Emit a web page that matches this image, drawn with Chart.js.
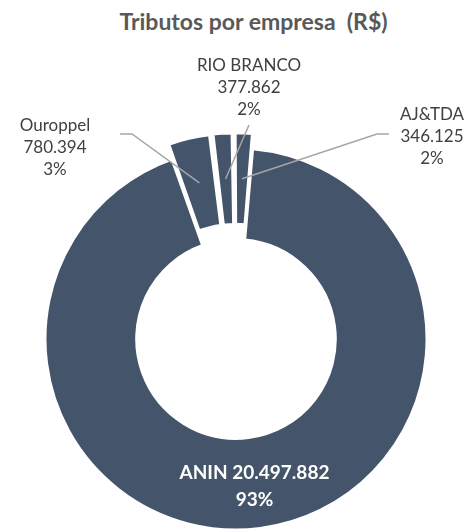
<!DOCTYPE html>
<html>
<head>
<meta charset="utf-8">
<script src="https://cdn.jsdelivr.net/npm/chart.js@4.4.0/dist/chart.umd.min.js"></script>
<style>
  html, body { margin: 0; padding: 0; background: #fff; }
  #wrap { position: relative; width: 466px; height: 530px; overflow: hidden; }
  #titulo {
    position: absolute; top: 7px; left: 41px; width: 425px;
    text-align: center; font-family: Lato, sans-serif; font-weight: bold;
    font-size: 23px; line-height: 28px; color: #595959; white-space: pre;
  }
  #grafico { position: absolute; left: 0; top: 0; }
</style>
</head>
<body>
<div id="wrap">
  <div id="titulo">Tributos por empresa  (R$)</div>
  <canvas id="grafico" width="466" height="530"></canvas>
</div>
<script>
// Dados do gráfico
const empresas = ['ANIN', 'Ouroppel', 'RIO BRANCO', 'AJ&TDA'];
const tributos = [20497882, 780394, 377862, 346125];
const percentuais = ['93%', '3%', '2%', '2%'];

const corFatia = '#44546a';
const corTexto = '#404040';
const corLinha = '#a6a6a6';

// Posição dos rótulos externos (relativa ao centro do gráfico)
const posRotulos = [
    null, // ANIN fica dentro da fatia
    { x: -181, y: -191, linha: [[-116, -205], [-104, -205]] },
    { x: 13, y: -251, linha: [[13, -214]] },
    { x: 196, y: -202, linha: [[153, -205], [141, -205]] }
];

// formata número no padrão brasileiro (20.497.882)
function formatar(v) {
    return String(v).replace(/\B(?=(\d{3})+(?!\d))/g, '.');
}

const rotulosPlugin = {
    id: 'rotulos',
    afterDatasetsDraw(chart) {
        const ctx = chart.ctx;
        const arcs = chart.getDatasetMeta(0).data;
        ctx.save();
        ctx.textAlign = 'center';
        ctx.textBaseline = 'middle';
        arcs.forEach((arc, i) => {
            const p = arc.getProps(['x', 'y', 'startAngle', 'endAngle', 'innerRadius', 'outerRadius', 'circumference']);
            const meio = (p.startAngle + p.endAngle) / 2;
            const off = (arc.options.offset || 0) / 4;
            const fix = 1 - Math.sin(Math.min(Math.PI, p.circumference || 0));
            const r = (p.innerRadius + p.outerRadius) / 2 + off + off * fix;
            const cx = p.x + Math.cos(meio) * r;
            const cy = p.y + Math.sin(meio) * r;

            const pos = posRotulos[i];
            if (!pos) {
                // rótulo interno
                ctx.fillStyle = '#ffffff';
                ctx.font = 'bold 19px Lato';
                ctx.fillText(empresas[i] + ' ' + formatar(tributos[i]), cx, cy - 10);
                ctx.fillText(percentuais[i], cx, cy + 17);
                return;
            }

            // linha de chamada
            ctx.strokeStyle = corLinha;
            ctx.lineWidth = 1.5;
            ctx.beginPath();
            pos.linha.forEach((pt, k) => {
                if (k === 0) ctx.moveTo(p.x + pt[0], p.y + pt[1]);
                else ctx.lineTo(p.x + pt[0], p.y + pt[1]);
            });
            ctx.lineTo(cx, cy);
            ctx.stroke();

            // texto
            ctx.fillStyle = corTexto;
            ctx.font = '17px Lato';
            const tx = p.x + pos.x;
            const ty = p.y + pos.y;
            ctx.fillText(empresas[i], tx, ty - 22);
            ctx.fillText(formatar(tributos[i]), tx, ty);
            ctx.fillText(percentuais[i], tx, ty + 22);
        });
        ctx.restore();
    }
};

const ctxGrafico = document.getElementById('grafico').getContext('2d');
const grafico = new Chart(ctxGrafico, {
    type: 'doughnut',
    data: {
        labels: empresas,
        datasets: [{
            data: tributos,
            backgroundColor: corFatia,
            borderColor: '#ffffff',
            borderWidth: 3,
            offset: [0, 34, 32, 32]
        }]
    },
    options: {
        responsive: false,
        animation: false,
        radius: 191,
        cutout: '52%',
        rotation: 5,
        layout: { padding: { top: 148, bottom: 0, left: 6, right: 0 } },
        plugins: {
            legend: { display: false },
            title: { display: false },
            tooltip: { enabled: false }
        },
        events: []
    },
    plugins: [rotulosPlugin]
});
</script>
</body>
</html>
